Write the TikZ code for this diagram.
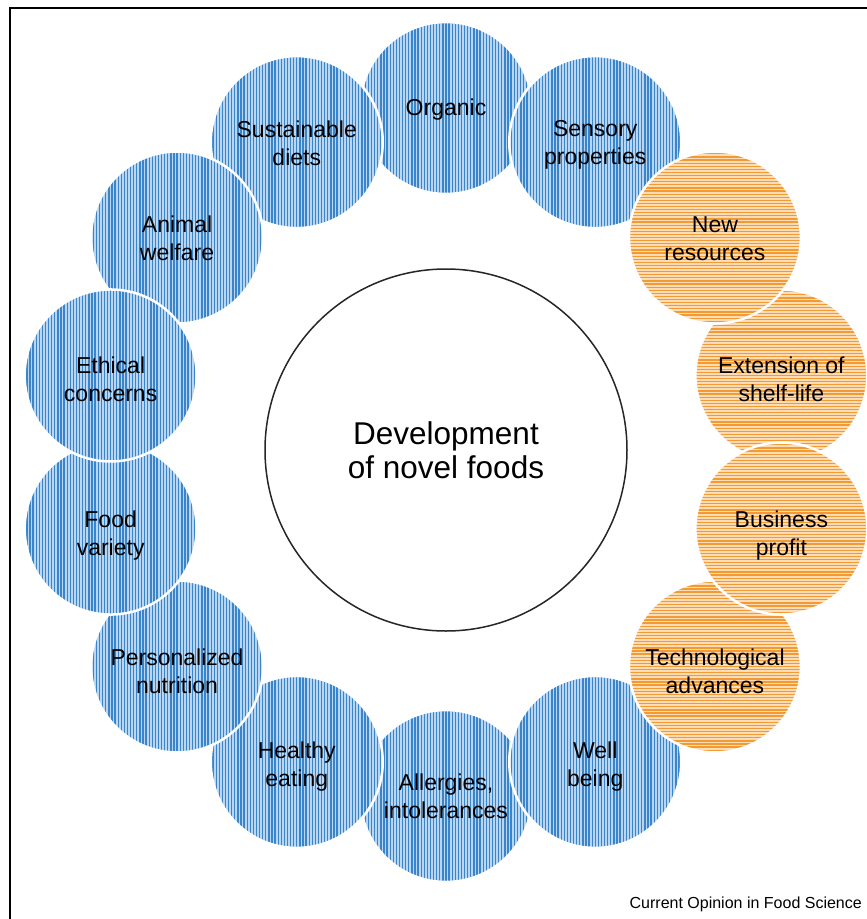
\documentclass[tikz,border=0pt]{standalone}
\usepackage{fontspec}
\setmainfont{Liberation Sans}
\definecolor{bdark}{HTML}{3A85CA}
\definecolor{blight}{HTML}{B8D6F1}
\definecolor{odark}{HTML}{F39A33}
\definecolor{olight}{HTML}{FDDDB8}
\tikzset{
  bubble/.style={circle, minimum size=172pt, inner sep=0pt, draw=white, line width=2.5pt},
  bubtext/.style={align=center, font=\fontsize{23}{28}\selectfont, text=black, inner sep=0pt},
  bluefill/.style={path picture={
      \fill[blight] (path picture bounding box.south west) rectangle (path picture bounding box.north east);
      \foreach \i in {-28,...,28}
        \draw[bdark, line width=1.3pt] ([xshift={\i*3.1pt}]path picture bounding box.north) -- ([xshift={\i*3.1pt}]path picture bounding box.south);
  }},
  orangefill/.style={path picture={
      \fill[olight] (path picture bounding box.south west) rectangle (path picture bounding box.north east);
      \foreach \i in {-28,...,28}
        \draw[odark, line width=1.25pt] ([yshift={\i*3.1pt}]path picture bounding box.west) -- ([yshift={\i*3.1pt}]path picture bounding box.east);
  }},
  hub/.style={circle, draw=black!85, line width=1.5pt, minimum size=362pt, inner sep=0pt,
    align=center, font=\fontsize{31.5}{34}\selectfont},
  credit/.style={anchor=east, font=\fontsize{16}{18}\selectfont, inner sep=0pt},
  frame/.style={line width=1.3pt, black}
}
% #1 name, #2 index round the ring, #3 text, #4 fill style, #5 downward shift of the text
\newcommand\mybub[5]{%
  \node[bubble, #4] (#1) at ({446+344*cos(90-#2*360/14)},{452-344*sin(90-#2*360/14)}) {};
  \node[bubtext] (#1-t) at ([yshift={-#5pt}]#1.center) {#3};}
\begin{document}
\begin{tikzpicture}[x=1pt, y=-1pt]
\useasboundingbox (0,0) rectangle (867,919);
\fill[white] (0,0) rectangle (867,919);
\draw[frame] (10,919) -- (10,8) -- (867,8);
% drawing order sets the overlaps
\mybub{organic}{0}{Organic}{bluefill}{2}
\mybub{allergies}{7}{Allergies,\\intolerances}{bluefill}{0}
\mybub{extension}{3}{Extension of\\shelf-life}{orangefill}{4}
\mybub{sensory}{1}{Sensory\\properties}{bluefill}{3}
\mybub{well}{6}{Well\\being}{bluefill}{5}
\mybub{healthy}{8}{Healthy\\eating}{bluefill}{5}
\mybub{sustain}{13}{Sustainable\\diets}{bluefill}{1}
\mybub{newres}{2}{New\\resources}{orangefill}{1}
\mybub{tech}{5}{Technological\\advances}{orangefill}{5}
\mybub{personal}{9}{Personalized\\nutrition}{bluefill}{5}
\mybub{animal}{12}{Animal\\welfare}{bluefill}{1}
\mybub{business}{4}{Business\\profit}{orangefill}{7}
\mybub{food}{10}{Food\\variety}{bluefill}{7}
\mybub{ethical}{11}{Ethical\\concerns}{bluefill}{4}
\node[hub] (center) at (446,450) {Development\\of novel foods};
\node[credit] (source) at (862,904) {Current Opinion in Food Science};
\end{tikzpicture}
\end{document}
